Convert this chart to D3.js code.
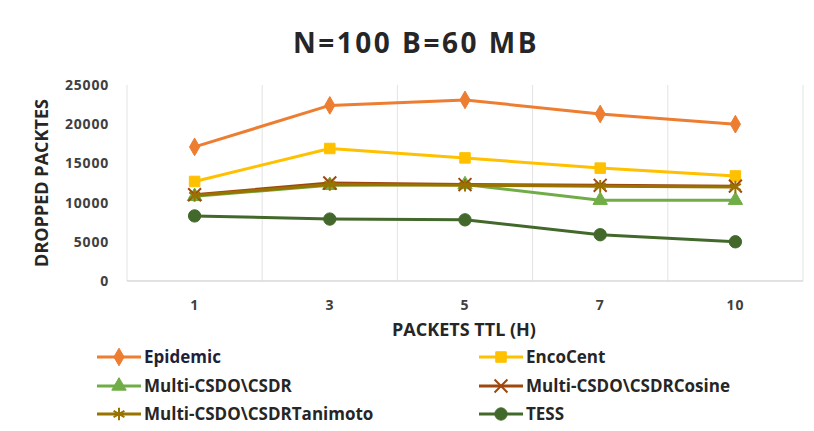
<!DOCTYPE html>
<html>
<head>
<meta charset="utf-8">
<script src="https://cdn.jsdelivr.net/npm/d3@7"></script>
<style>
  html, body { margin: 0; padding: 0; background: #fff; }
  svg { display: block; font-family: 'Open Sans', sans-serif; }
</style>
</head>
<body>
<div id="chart"></div>
<script>
// Dropped packets vs packet TTL, N=100 B=60 MB
const ttlLabels = ['1', '3', '5', '7', '10'];
const yTicks = [0, 5000, 10000, 15000, 20000, 25000];

const epidemic  = [17100, 22400, 23100, 21300, 20000];
const encoCent  = [12700, 16900, 15700, 14400, 13400];
const csdr      = [10800, 12200, 12300, 10300, 10300];
const cosine    = [11000, 12500, 12300, 12200, 12100];
const tanimoto  = [10900, 12300, 12200, 12100, 12000];
const tess      = [8300, 7900, 7800, 5900, 5000];

const series = [
  { name: 'Epidemic', values: epidemic, color: '#ed7d31', symbol: d3.symbolDiamond, size: 90, stroke: false },
  { name: 'EncoCent', values: encoCent, color: '#ffc000', symbol: d3.symbolSquare, size: 110, stroke: false },
  { name: 'Multi-CSDO\\CSDR', values: csdr, color: '#70ad47', symbol: d3.symbolTriangle, size: 90, stroke: false },
  { name: 'Multi-CSDO\\CSDRCosine', values: cosine, color: '#9e480e', symbol: d3.symbolTimes, size: 110, stroke: true },
  { name: 'Multi-CSDO\\CSDRTanimoto', values: tanimoto, color: '#997300', symbol: d3.symbolAsterisk, size: 110, stroke: true },
  { name: 'TESS', values: tess, color: '#43682b', symbol: d3.symbolCircle, size: 120, stroke: false },
];
// draw order: lower lines first so the brown ones sit on top like the original
const drawOrder = [0, 1, 2, 5, 3, 4];

const W = 814, H = 431;
const margin = { top: 85, right: 11, bottom: 150, left: 127 };
const width = W - margin.left - margin.right;
const height = H - margin.top - margin.bottom;

const svg = d3.select('#chart').append('svg')
  .attr('width', W).attr('height', H);

svg.append('text')
  .attr('x', 416).attr('y', 53)
  .attr('text-anchor', 'middle')
  .attr('font-size', 28).attr('font-weight', 700)
  .attr('letter-spacing', 2.5)
  .attr('fill', '#262626')
  .text('N=100 B=60 MB');

const g = svg.append('g').attr('transform', `translate(${margin.left},${margin.top})`);

const x = d3.scaleBand().domain(ttlLabels).range([0, width]).padding(0);
const y = d3.scaleLinear().domain([0, 25000]).range([height, 0]);
const cx = (i) => x(ttlLabels[i]) + x.bandwidth() / 2;

// vertical gridlines at category boundaries
const edges = ttlLabels.map((d) => x(d)).concat([width]);
g.selectAll('.vgrid')
  .data(edges)
  .enter()
  .append('line')
  .attr('x1', (d) => d).attr('x2', (d) => d)
  .attr('y1', 0).attr('y2', height)
  .attr('stroke', '#e3e3e3')
  .attr('stroke-width', 1);

// baseline
g.append('line')
  .attr('x1', 0).attr('x2', width)
  .attr('y1', height).attr('y2', height)
  .attr('stroke', '#d9d9d9')
  .attr('stroke-width', 1.5);

// y tick labels
g.selectAll('.y-tick')
  .data(yTicks)
  .enter()
  .append('text')
  .attr('x', -18)
  .attr('y', (d) => y(d) + 5)
  .attr('text-anchor', 'end')
  .attr('font-size', 14).attr('font-weight', 700)
  .attr('letter-spacing', 0.8)
  .attr('fill', '#404040')
  .text((d) => d);

// x tick labels
g.selectAll('.x-tick')
  .data(ttlLabels)
  .enter()
  .append('text')
  .attr('x', (d) => x(d) + x.bandwidth() / 2)
  .attr('y', height + 29)
  .attr('text-anchor', 'middle')
  .attr('font-size', 14).attr('font-weight', 700)
  .attr('letter-spacing', 0.8)
  .attr('fill', '#404040')
  .text((d) => d);

// axis titles
svg.append('text')
  .attr('x', 464).attr('y', 336)
  .attr('text-anchor', 'middle')
  .attr('font-size', 18).attr('font-weight', 700)
  .attr('fill', '#262626')
  .text('PACKETS TTL (H)');

svg.append('text')
  .attr('transform', 'translate(48,183) rotate(-90)')
  .attr('text-anchor', 'middle')
  .attr('font-size', 18).attr('font-weight', 700)
  .attr('fill', '#262626')
  .text('DROPPED PACKTES');

function drawMarker(sel, s, px, py) {
  const path = d3.symbol().type(s.symbol).size(s.size)();
  const m = sel.append('path')
    .attr('d', path)
    .attr('transform', `translate(${px},${py})`);
  if (s.stroke) {
    m.attr('fill', 'none').attr('stroke', s.color).attr('stroke-width', 2);
  } else {
    m.attr('fill', s.color).attr('stroke', s.color).attr('stroke-width', 1);
  }
}

const line = d3.line()
  .x((d, i) => cx(i))
  .y((d) => y(d));

drawOrder.forEach((k) => {
  const s = series[k];
  g.append('path')
    .datum(s.values)
    .attr('d', line)
    .attr('fill', 'none')
    .attr('stroke', s.color)
    .attr('stroke-width', 3)
    .attr('stroke-linejoin', 'round');
  s.values.forEach((v, i) => drawMarker(g, s, cx(i), y(v)));
});

// legend
const legCols = [97, 479];
const legRows = [357, 386, 414];
series.forEach((s, i) => {
  const lx = legCols[i % 2];
  const ly = legRows[Math.floor(i / 2)];
  const lg = svg.append('g');
  lg.append('line')
    .attr('x1', lx).attr('x2', lx + 44)
    .attr('y1', ly).attr('y2', ly)
    .attr('stroke', s.color).attr('stroke-width', 3);
  drawMarker(lg, s, lx + 22, ly);
  lg.append('text')
    .attr('x', lx + 47).attr('y', ly + 6)
    .attr('font-size', 17).attr('font-weight', 700)
    .attr('fill', i === 0 ? '#1f1f3a' : '#262626')
    .text(s.name);
});
</script>
</body>
</html>
